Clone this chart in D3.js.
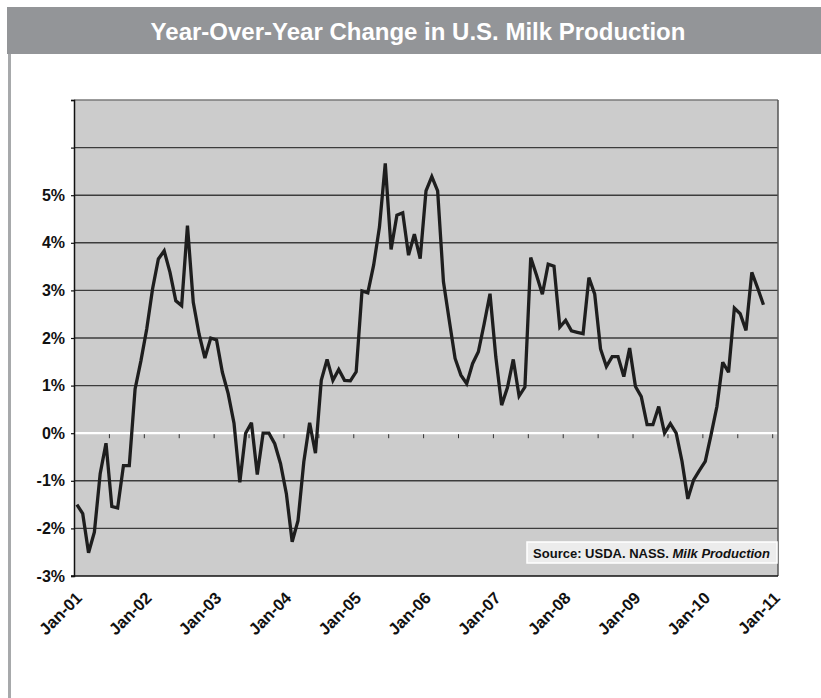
<!DOCTYPE html>
<html>
<head>
<meta charset="utf-8">
<script src="https://cdn.jsdelivr.net/npm/d3@7"></script>
<style>
  body { margin: 0; background: #fff; }
  svg text { font-family: "Liberation Sans", Arial, Helvetica, sans-serif; }
</style>
</head>
<body>
<svg id="chart" width="821" height="698"></svg>
<script>
// ---- data -------------------------------------------------------------
const chartTitle = "Year-Over-Year Change in U.S. Milk Production";
const yearLabels = ["Jan-01", "Jan-02", "Jan-03", "Jan-04", "Jan-05", "Jan-06",
                    "Jan-07", "Jan-08", "Jan-09", "Jan-10", "Jan-11"];
const yTickValues = [-3, -2, -1, 0, 1, 2, 3, 4, 5, 6, 7];
const yLabelMax = 5;               // ticks above this carry no label
const monthSlots = 121;            // Jan-01 through Jan-11, one slot per month
// monthly % change vs. same month a year earlier, Jan 2001 onward
const yoyChange = [
  -1.50, -1.69, -2.51, -2.08, -0.85, -0.21, -1.54, -1.57, -0.68, -0.68, 0.93, 1.52,
   2.19,  3.03,  3.66,  3.83,  3.38,  2.78,  2.68,  4.36,  2.75,  2.08, 1.58, 2.00,
   1.96,  1.28,  0.83,  0.21, -1.03,  0.00,  0.22, -0.87,  0.00,  0.00, -0.22, -0.64,
  -1.27, -2.28, -1.84, -0.60,  0.22, -0.42,  1.11,  1.55,  1.11,  1.34, 1.11, 1.10,
   1.29,  2.99,  2.95,  3.53,  4.33,  5.67,  3.86,  4.58,  4.63,  3.74, 4.18, 3.67,
   5.09,  5.39,  5.09,  3.18,  2.37,  1.57,  1.22,  1.04,  1.46,  1.71, 2.30, 2.93,
   1.60,  0.59,  0.96,  1.55,  0.78,  0.97,  3.69,  3.32,  2.92,  3.55, 3.51, 2.23,
   2.37,  2.15,  2.12,  2.09,  3.27,  2.92,  1.77,  1.40,  1.61,  1.61, 1.19, 1.79,
   0.98,  0.77,  0.18,  0.18,  0.56,  0.00,  0.20,  0.00, -0.59, -1.38, -0.98, -0.78,
  -0.59, -0.03,  0.56,  1.49,  1.28,  2.63,  2.51,  2.16,  3.38,  3.05, 2.70
];
const sourceText = "Source: USDA. NASS. ";
const sourceTitle = "Milk Production";

// ---- layout -----------------------------------------------------------
const svg = d3.select("#chart");
const plot = { left: 74, right: 778, top: 100, bottom: 576 };

const x = d3.scaleLinear().domain([0, monthSlots]).range([plot.left, plot.right]);
const y = d3.scaleLinear().domain([-3, 7]).range([plot.bottom, plot.top]);

// frame: title banner and left rule
svg.append("rect").attr("x", 7).attr("y", 7).attr("width", 814).attr("height", 47)
  .attr("fill", "#939598");
svg.append("rect").attr("x", 8).attr("y", 54).attr("width", 3).attr("height", 644)
  .attr("fill", "#a7a9ab");
svg.append("text").attr("x", 418).attr("y", 39.5).attr("text-anchor", "middle")
  .attr("fill", "#fff").attr("font-size", 24).attr("font-weight", "bold")
  .text(chartTitle);

// plot background
svg.append("rect").attr("x", plot.left).attr("y", plot.top)
  .attr("width", plot.right - plot.left).attr("height", plot.bottom - plot.top)
  .attr("fill", "#cccccc");

// horizontal gridlines
svg.append("g").selectAll("line")
  .data(yTickValues.filter(v => v !== -3 && v !== 0))
  .join("line")
  .attr("x1", plot.left).attr("x2", plot.right)
  .attr("y1", d => y(d)).attr("y2", d => y(d))
  .attr("stroke", d => d === 7 ? "#7a7a7a" : "#3c3c3c")
  .attr("stroke-width", 1.4);

// zero line with half-year ticks
svg.append("line")
  .attr("x1", plot.left).attr("x2", plot.right)
  .attr("y1", y(0)).attr("y2", y(0))
  .attr("stroke", "#fff").attr("stroke-width", 2.2);
const halfYearTicks = d3.range(0, monthSlots, 6);
const zeroAxis = d3.axisBottom(x).tickValues(halfYearTicks).tickSize(4)
  .tickSizeOuter(0).tickFormat("");
svg.append("g").attr("transform", `translate(0,${y(0) + 1})`).call(zeroAxis)
  .call(g => g.select(".domain").remove())
  .call(g => g.selectAll(".tick line").attr("stroke", "#333").attr("stroke-width", 1));

// right border
svg.append("line").attr("x1", plot.right).attr("x2", plot.right)
  .attr("y1", plot.top).attr("y2", plot.bottom)
  .attr("stroke", "#555").attr("stroke-width", 1.5);

// y axis
const yAxis = d3.axisLeft(y).tickValues(yTickValues).tickSize(3).tickPadding(6)
  .tickFormat(d => d <= yLabelMax ? d + "%" : "");
svg.append("g").attr("transform", `translate(${plot.left},0)`).call(yAxis)
  .call(g => g.select(".domain").attr("stroke", "#111").attr("stroke-width", 1.5))
  .call(g => g.selectAll(".tick line").attr("stroke", "#111").attr("stroke-width", 1.2))
  .call(g => g.selectAll(".tick text").attr("font-size", 16).attr("font-weight", "bold")
    .attr("fill", "#111").attr("font-family", null));

// bottom axis line
svg.append("line").attr("x1", plot.left - 3).attr("x2", plot.right)
  .attr("y1", plot.bottom).attr("y2", plot.bottom)
  .attr("stroke", "#111").attr("stroke-width", 1.5);

// rotated year labels
const yearPos = yearLabels.map((lab, k) => ({ lab, slot: k * 12 + 0.5 }));
svg.append("g").selectAll("text")
  .data(yearPos)
  .join("text")
  .attr("transform", d => `translate(${x(d.slot) + 6},${plot.bottom + 23}) rotate(-45)`)
  .attr("text-anchor", "end")
  .attr("font-size", 16.5).attr("font-weight", "bold").attr("fill", "#111")
  .text(d => d.lab);

// the series
const line = d3.line().x((d, i) => x(i + 0.5)).y(d => y(d));
svg.append("path").datum(yoyChange)
  .attr("d", line).attr("fill", "none")
  .attr("stroke", "#1e1e1e").attr("stroke-width", 3.3)
  .attr("stroke-linejoin", "miter").attr("stroke-miterlimit", 3);

// source note
const src = svg.append("g");
src.append("rect").attr("x", 527).attr("y", 542).attr("width", 250).attr("height", 21)
  .attr("fill", "#ececec").attr("stroke", "#fff").attr("stroke-width", 1.5);
const srcText = src.append("text").attr("x", 770).attr("y", 557.5)
  .attr("text-anchor", "end").attr("font-size", 13).attr("font-weight", "bold")
  .attr("fill", "#111");
srcText.append("tspan").text(sourceText);
srcText.append("tspan").attr("font-style", "italic").text(sourceTitle);
</script>
</body>
</html>
